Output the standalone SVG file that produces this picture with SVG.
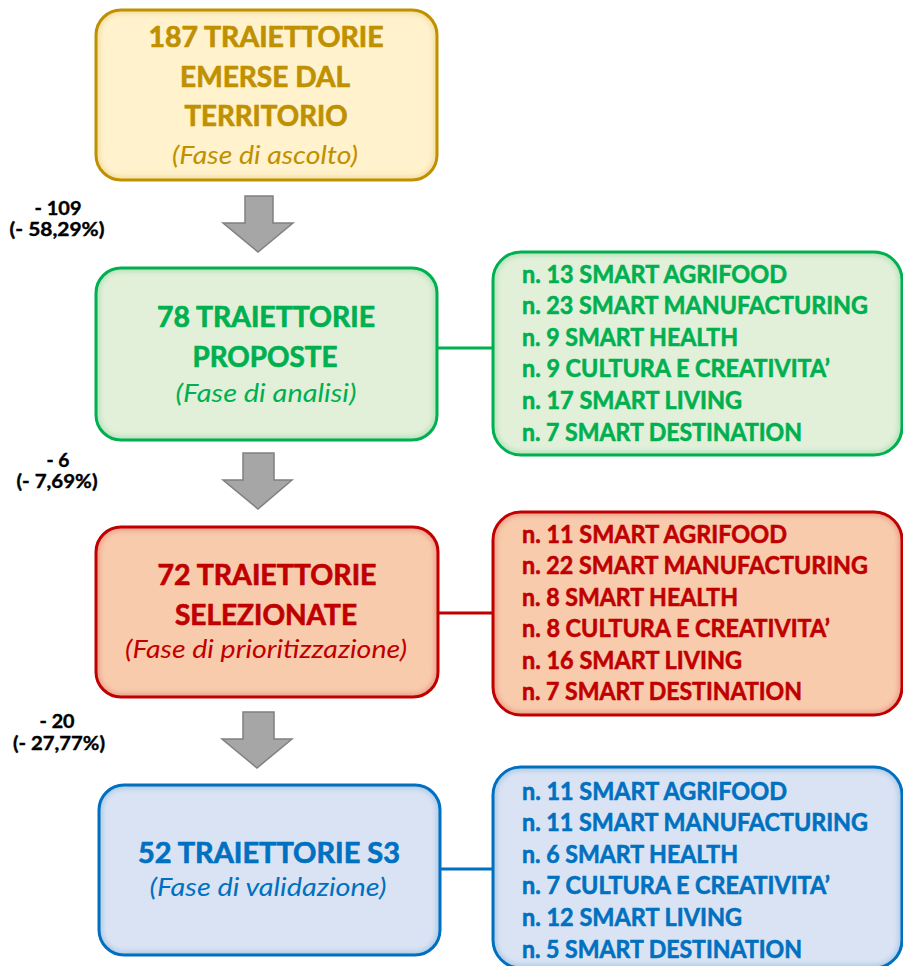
<svg xmlns="http://www.w3.org/2000/svg" width="903" height="966" viewBox="0 0 903 966">
  <defs>
    <style>
      text { font-family: Lato, "Open Sans", "Liberation Sans", sans-serif; }
      .title { font-size: 29px; font-weight: bold; text-anchor: middle; stroke-width: 0.7; }
      .phase { font-size: 26px; font-style: italic; text-anchor: middle; }
      .item { font-size: 25px; font-weight: bold; stroke-width: 0.6; }
      .delta { font-size: 19px; font-weight: bold; text-anchor: middle; fill: #000000; stroke: #000000; stroke-width: 0.4; }
      .box { stroke-width: 3; }
      .gold .box { fill: #fff2cc; stroke: #bf9000; }
      .gold text { fill: #bf9000; stroke: #bf9000; }
      .green .box { fill: #e2f0d9; stroke: #00b050; }
      .green text { fill: #00b050; stroke: #00b050; }
      .red .box { fill: #f8cbad; stroke: #c00000; }
      .red text { fill: #c00000; stroke: #c00000; }
      .blue .box { fill: #dae3f3; stroke: #0070c0; }
      .blue text { fill: #0070c0; stroke: #0070c0; }
      text.phase { stroke: none; }
      .glow { fill: none; stroke-width: 7; opacity: 0.22; filter: url(#soft); }
      .gold .glow { stroke: #bf9000; }
      .green .glow { stroke: #00b050; }
      .red .glow { stroke: #c00000; }
      .blue .glow { stroke: #0070c0; }
      .arrow { fill: #a6a6a6; stroke: #808080; stroke-width: 1.5; stroke-linejoin: miter; }
      .link { stroke-width: 3; fill: none; }
    </style>
    <filter id="soft" x="-5%" y="-5%" width="110%" height="110%">
      <feGaussianBlur stdDeviation="2.5"/>
    </filter>
    <clipPath id="clipL1"><rect x="96" y="10" width="341" height="170" rx="25"/></clipPath>
    <clipPath id="clipL2"><rect x="96" y="268" width="341" height="172" rx="25"/></clipPath>
    <clipPath id="clipL3"><rect x="96" y="527" width="342" height="170" rx="25"/></clipPath>
    <clipPath id="clipL4"><rect x="99" y="785" width="341" height="170" rx="25"/></clipPath>
    <clipPath id="clipR2"><rect x="493" y="252" width="409" height="203" rx="28"/></clipPath>
    <clipPath id="clipR3"><rect x="493" y="512" width="409" height="203" rx="28"/></clipPath>
    <clipPath id="clipR4"><rect x="493" y="767" width="409" height="201" rx="28"/></clipPath>
  </defs>

  <!-- connectors: horizontal links and downward block arrows -->
  <g id="connectors">
    <line class="link" x1="437" y1="348" x2="493" y2="348" stroke="#00b050"/>
    <line class="link" x1="438" y1="613" x2="493" y2="613" stroke="#c00000"/>
    <line class="link" x1="440" y1="869" x2="493" y2="869" stroke="#0070c0"/>
    <polygon class="arrow" points="245,196 273,196 273,223 293,223 258,252 223,223 245,223"/>
    <polygon class="arrow" points="243,453 274,453 274,480 292,480 258,509 223,480 243,480"/>
    <polygon class="arrow" points="243,712 274,712 274,739 292,739 257,768 222,739 243,739"/>
  </g>

  <!-- reduction labels -->
  <g id="delta1">
    <text class="delta" x="58" y="215" textLength="47" lengthAdjust="spacingAndGlyphs">- 109</text>
    <text class="delta" x="57" y="236" textLength="95" lengthAdjust="spacingAndGlyphs">(- 58,29%)</text>
  </g>
  <g id="delta2">
    <text class="delta" x="58" y="467" textLength="23" lengthAdjust="spacingAndGlyphs">- 6</text>
    <text class="delta" x="57" y="488" textLength="81" lengthAdjust="spacingAndGlyphs">(- 7,69%)</text>
  </g>
  <g id="delta3">
    <text class="delta" x="57" y="728" textLength="35" lengthAdjust="spacingAndGlyphs">- 20</text>
    <text class="delta" x="59" y="750" textLength="92" lengthAdjust="spacingAndGlyphs">(- 27,77%)</text>
  </g>

  <!-- phase 1 -->
  <g id="phase-ascolto" class="gold">
    <rect class="box" x="96" y="10" width="341" height="170" rx="25"/>
    <rect class="glow" x="96" y="10" width="341" height="170" rx="25" clip-path="url(#clipL1)"/>
    <text class="title" x="266" y="47" textLength="235" lengthAdjust="spacingAndGlyphs">187 TRAIETTORIE</text>
    <text class="title" x="265" y="87" textLength="170" lengthAdjust="spacingAndGlyphs">EMERSE DAL</text>
    <text class="title" x="266" y="126" textLength="163" lengthAdjust="spacingAndGlyphs">TERRITORIO</text>
    <text class="phase" x="265" y="164" textLength="186" lengthAdjust="spacingAndGlyphs">(Fase di ascolto)</text>
  </g>

  <!-- phase 2 -->
  <g id="phase-analisi" class="green">
    <rect class="box" x="96" y="268" width="341" height="172" rx="25"/>
    <rect class="glow" x="96" y="268" width="341" height="172" rx="25" clip-path="url(#clipL2)"/>
    <text class="title" x="266" y="327" textLength="218" lengthAdjust="spacingAndGlyphs">78 TRAIETTORIE</text>
    <text class="title" x="265" y="367" textLength="145" lengthAdjust="spacingAndGlyphs">PROPOSTE</text>
    <text class="phase" x="266" y="402" textLength="181" lengthAdjust="spacingAndGlyphs">(Fase di analisi)</text>
  </g>
  <g id="list-analisi" class="green">
    <rect class="box" x="493" y="252" width="409" height="203" rx="28"/>
    <rect class="glow" x="493" y="252" width="409" height="203" rx="28" clip-path="url(#clipR2)"/>
    <text class="item" x="522" y="283" textLength="265" lengthAdjust="spacingAndGlyphs">n. 13 SMART AGRIFOOD</text>
    <text class="item" x="522" y="314" textLength="346" lengthAdjust="spacingAndGlyphs">n. 23 SMART MANUFACTURING</text>
    <text class="item" x="522" y="346" textLength="216" lengthAdjust="spacingAndGlyphs">n. 9 SMART HEALTH</text>
    <text class="item" x="522" y="377" textLength="308" lengthAdjust="spacingAndGlyphs">n. 9 CULTURA E CREATIVITA’</text>
    <text class="item" x="522" y="409" textLength="220" lengthAdjust="spacingAndGlyphs">n. 17 SMART LIVING</text>
    <text class="item" x="522" y="441" textLength="280" lengthAdjust="spacingAndGlyphs">n. 7 SMART DESTINATION</text>
  </g>

  <!-- phase 3 -->
  <g id="phase-prioritizzazione" class="red">
    <rect class="box" x="96" y="527" width="342" height="170" rx="25"/>
    <rect class="glow" x="96" y="527" width="342" height="170" rx="25" clip-path="url(#clipL3)"/>
    <text class="title" x="267" y="585" textLength="219" lengthAdjust="spacingAndGlyphs">72 TRAIETTORIE</text>
    <text class="title" x="266" y="625" textLength="182" lengthAdjust="spacingAndGlyphs">SELEZIONATE</text>
    <text class="phase" x="266" y="658" textLength="282" lengthAdjust="spacingAndGlyphs">(Fase di prioritizzazione)</text>
  </g>
  <g id="list-prioritizzazione" class="red">
    <rect class="box" x="493" y="512" width="409" height="203" rx="28"/>
    <rect class="glow" x="493" y="512" width="409" height="203" rx="28" clip-path="url(#clipR3)"/>
    <text class="item" x="522" y="543" textLength="265" lengthAdjust="spacingAndGlyphs">n. 11 SMART AGRIFOOD</text>
    <text class="item" x="522" y="574" textLength="346" lengthAdjust="spacingAndGlyphs">n. 22 SMART MANUFACTURING</text>
    <text class="item" x="522" y="606" textLength="216" lengthAdjust="spacingAndGlyphs">n. 8 SMART HEALTH</text>
    <text class="item" x="522" y="637" textLength="308" lengthAdjust="spacingAndGlyphs">n. 8 CULTURA E CREATIVITA’</text>
    <text class="item" x="522" y="669" textLength="220" lengthAdjust="spacingAndGlyphs">n. 16 SMART LIVING</text>
    <text class="item" x="522" y="700" textLength="280" lengthAdjust="spacingAndGlyphs">n. 7 SMART DESTINATION</text>
  </g>

  <!-- phase 4 -->
  <g id="phase-validazione" class="blue">
    <rect class="box" x="99" y="785" width="341" height="170" rx="25"/>
    <rect class="glow" x="99" y="785" width="341" height="170" rx="25" clip-path="url(#clipL4)"/>
    <text class="title" x="269" y="863" textLength="262" lengthAdjust="spacingAndGlyphs">52 TRAIETTORIE S3</text>
    <text class="phase" x="268" y="896" textLength="237" lengthAdjust="spacingAndGlyphs">(Fase di validazione)</text>
  </g>
  <g id="list-validazione" class="blue">
    <rect class="box" x="493" y="767" width="409" height="201" rx="28"/>
    <rect class="glow" x="493" y="767" width="409" height="201" rx="28" clip-path="url(#clipR4)"/>
    <text class="item" x="522" y="800" textLength="265" lengthAdjust="spacingAndGlyphs">n. 11 SMART AGRIFOOD</text>
    <text class="item" x="522" y="831" textLength="346" lengthAdjust="spacingAndGlyphs">n. 11 SMART MANUFACTURING</text>
    <text class="item" x="522" y="863" textLength="216" lengthAdjust="spacingAndGlyphs">n. 6 SMART HEALTH</text>
    <text class="item" x="522" y="894" textLength="308" lengthAdjust="spacingAndGlyphs">n. 7 CULTURA E CREATIVITA’</text>
    <text class="item" x="522" y="926" textLength="220" lengthAdjust="spacingAndGlyphs">n. 12 SMART LIVING</text>
    <text class="item" x="522" y="958" textLength="280" lengthAdjust="spacingAndGlyphs">n. 5 SMART DESTINATION</text>
  </g>
</svg>
